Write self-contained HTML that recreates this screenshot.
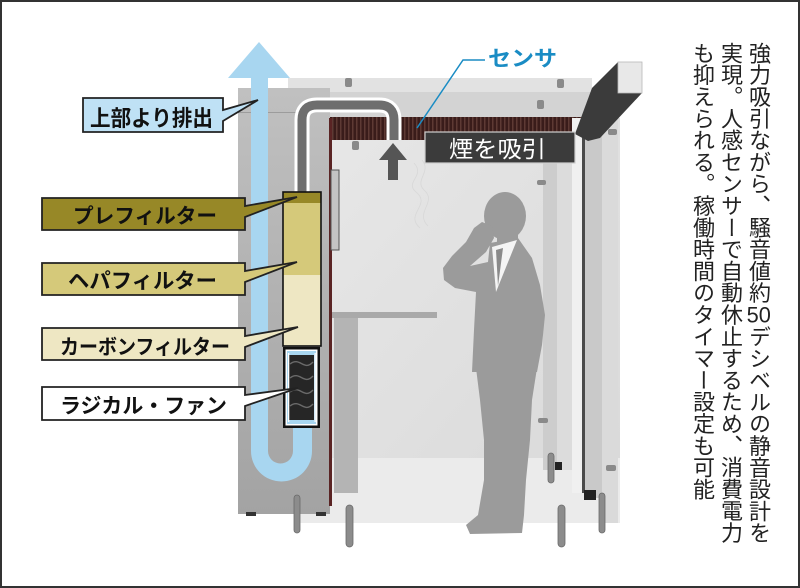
<!DOCTYPE html>
<html><head><meta charset="utf-8">
<style>
html,body{margin:0;padding:0;background:#fff;}
#wrap{position:relative;width:800px;height:588px;overflow:hidden;background:#fff;}
#frame{position:absolute;left:0;top:0;width:800px;height:588px;box-sizing:border-box;border:2px solid #333;}
svg{position:absolute;left:0;top:0;}
.vt{position:absolute;top:42px;right:28px;writing-mode:vertical-rl;font-family:"Liberation Sans","Noto Sans CJK JP",sans-serif;font-size:22px;letter-spacing:-0.2px;line-height:28px;color:#222;white-space:nowrap;}
.tcy{text-combine-upright:all;}
</style></head>
<body><div id="wrap">
<svg width="800" height="588" viewBox="0 0 800 588" font-family="'Liberation Sans','Noto Sans CJK JP',sans-serif">
<defs>
<linearGradient id="cab" x1="0" y1="0" x2="0" y2="1"><stop offset="0" stop-color="#c0c0c0"/><stop offset="1" stop-color="#a3a3a3"/></linearGradient>
<pattern id="hatch" width="4" height="4" patternUnits="userSpaceOnUse"><rect width="4" height="4" fill="#3a1c1a"/><rect width="1.5" height="4" fill="#5e3a34"/></pattern>
<linearGradient id="wall" x1="0" y1="0" x2="1" y2="1"><stop offset="0" stop-color="#e7e7e7"/><stop offset="1" stop-color="#dadada"/></linearGradient>
</defs>

<!-- interior wall & floor -->
<rect x="330" y="118" width="290" height="342" fill="url(#wall)"/>
<polygon points="300,458 620,458 620,523 300,523" fill="#ebebeb"/>

<!-- top beam -->
<rect x="288" y="78" width="304" height="40" fill="#d3d3d3"/>
<rect x="288" y="78" width="304" height="14" fill="#e2e2e2"/>
<!-- vent strip -->
<polygon points="330,117 590,117 577,140 330,140" fill="url(#hatch)"/>

<!-- right panels -->
<rect x="543" y="140" width="14" height="330" fill="#cdcdcd"/>
<rect x="557" y="140" width="15" height="330" fill="#dcdcdc"/>
<rect x="572" y="118" width="11" height="375" fill="#f0f0f0"/>
<rect x="582" y="118" width="3" height="375" fill="#4a4a4a"/>
<rect x="585" y="118" width="17" height="380" fill="#c9c9c9"/>
<rect x="602" y="118" width="16" height="405" fill="#dadada"/>
<rect x="555" y="462" width="7" height="8" fill="#222"/>
<rect x="584" y="490" width="12" height="10" fill="#222"/>

<!-- top-right bracket -->
<polygon points="575,134 592,88 618,62 642,62 642,93 600,138 588,141" fill="#3b3b3b"/>
<rect x="618" y="62" width="24" height="31" fill="#e8e8e8" stroke="#b8b8b8" stroke-width="0.8"/>

<!-- knobs -->
<g fill="#8a8a8a">
<rect x="345" y="78" width="7" height="9" rx="2"/>
<rect x="557" y="79" width="7" height="9" rx="2"/>
<rect x="537" y="100" width="7" height="9" rx="2"/>
<rect x="352" y="141" width="7" height="9" rx="2"/>
<rect x="537" y="180" width="9" height="5" rx="2"/>
<rect x="608" y="129" width="9" height="6" rx="2"/>
<rect x="538" y="418" width="10" height="5" rx="2"/>
<rect x="606" y="465" width="10" height="6" rx="2"/>
</g>

<!-- smoke -->
<g fill="none" stroke="#d8d8d8" stroke-width="0.8">
<path d="M420,228 C404,214 432,205 416,192 C404,182 426,176 414,163"/>
<path d="M428,226 C414,212 438,202 424,190 C414,180 432,172 422,160"/>
</g>

<!-- person -->
<g fill="#9b9b9b">
<ellipse cx="505" cy="216" rx="21" ry="24"/>
<rect x="497" y="230" width="21" height="20"/>
<path d="M490,243 L518,238 L532,258 L540,285 L545,315 L542,345 L537,372 L472,372 L474,330 L476,292 L455,288 L444,280 L443,268 L452,256 L466,242 L474,228 L482,222 L492,226 L494,238 L486,252 L470,266 L488,262 Z"/>
<path d="M476,368 L537,368 L532,400 L530,440 L526,480 L524,515 L522,533 L470,534 L466,525 L478,515 L484,480 L484,440 L480,400 Z"/>
</g>
<polygon points="492,247 517,240 496,292" fill="#f4f4f4"/>
<polygon points="496,250 503,248 498,286" fill="#8a8a8a"/>

<!-- left cabinet -->
<rect x="238" y="88" width="92" height="426" fill="url(#cab)"/>
<rect x="238" y="112" width="92" height="1" fill="#9c9c9c"/>
<rect x="329" y="118" width="3" height="388" fill="#5a2424"/>
<rect x="331" y="170" width="8" height="80" fill="#c4c4c4" stroke="#555" stroke-width="1"/>
<rect x="246" y="512" width="10" height="4" fill="#333"/>
<rect x="316" y="512" width="10" height="4" fill="#333"/>
<!-- table -->
<rect x="332" y="312" width="105" height="6" fill="#a9a9a9"/>
<rect x="334" y="318" width="24" height="175" fill="#b4b4b4"/>

<!-- legs -->
<g fill="#8c8c8c" stroke="#6a6a6a" stroke-width="0.8">
<rect x="294" y="495" width="6" height="38" rx="3"/>
<rect x="346" y="505" width="7" height="42" rx="3.5"/>
<rect x="558" y="505" width="7" height="42" rx="3.5"/>
<rect x="599" y="493" width="6" height="40" rx="3"/>
<rect x="548" y="453" width="6" height="30" rx="3"/>
</g>

<!-- blue airflow -->
<path d="M251,77 L251,451 A30.5,30.5 0 0 0 312,451 L312,428 L293,428 L293,451 A12.5,12.5 0 0 1 268,451 L268,77 Z" fill="#a8d6f0"/>
<polygon points="228,78 259,42 290,78" fill="#a8d6f0"/>

<!-- duct -->
<path d="M302,192 L302,120 Q302,105 317,105 L379,105 Q394,105 394,120 L394,140" fill="none" stroke="#fff" stroke-width="15"/>
<path d="M302,192 L302,120 Q302,105 317,105 L379,105 Q394,105 394,120 L394,140" fill="none" stroke="#6e6e6e" stroke-width="9"/>

<!-- filter column -->
<rect x="283" y="192" width="38" height="11" fill="#978827"/>
<rect x="283" y="203" width="38" height="72" fill="#d5c97a"/>
<rect x="283" y="275" width="38" height="71" fill="#eee7c3"/>
<rect x="283" y="192" width="38" height="154" fill="none" stroke="#111" stroke-width="1.6"/>

<!-- fan -->
<rect x="283" y="347" width="37" height="81" fill="#111"/>
<rect x="285.5" y="349.5" width="32" height="76" fill="#fff"/>
<rect x="287" y="351" width="29" height="73" fill="#a8d6f0"/>
<rect x="289" y="355" width="25" height="65" fill="#262626"/>
<rect x="288" y="353" width="1.3" height="69" fill="#fff"/>
<rect x="314.5" y="353" width="1.3" height="69" fill="#fff"/>
<g fill="none" stroke="#6a6a6a" stroke-width="1.4">
<path d="M290,364 C300,356 304,372 313,362"/>
<path d="M290,378 C300,370 304,386 313,376"/>
<path d="M290,392 C300,384 304,400 313,390"/>
<path d="M290,406 C300,398 304,414 313,404"/>
</g>

<!-- up arrow -->
<polygon points="393,143 407,160 398,160 398,180 388,180 388,160 379,160" fill="#555"/>

<!-- smoke label -->
<rect x="425" y="132" width="150" height="31" fill="#3b3b3b" stroke="#cfcfcf" stroke-width="1.2"/>
<text x="449" y="157" font-size="23" fill="#fff" textLength="97" lengthAdjust="spacingAndGlyphs">煙を吸引</text>

<!-- sensor -->
<polyline points="485,60 463,60 417,128" fill="none" stroke="#1a8cc4" stroke-width="1.5"/>
<text x="488" y="66" font-size="21.5" font-weight="700" fill="#1a8cc4" textLength="69" lengthAdjust="spacingAndGlyphs">センサ</text>

<!-- labels -->
<path d="M83,98 H223 V110 L258,100 L223,121 V132 H83 Z" fill="#bfe1f5" stroke="#222" stroke-width="1.8"/>
<text x="90" y="126" font-size="22" font-weight="700" fill="#111" textLength="123" lengthAdjust="spacingAndGlyphs">上部より排出</text>

<path d="M42,198 H245 V206 L297,197 L245,217 V230 H42 Z" fill="#978827" stroke="#222" stroke-width="1.8"/>
<text x="73" y="223" font-size="20.5" font-weight="700" fill="#111" textLength="144" lengthAdjust="spacingAndGlyphs">プレフィルター</text>

<path d="M42,263 H245 V271 L297,262 L245,282 V295 H42 Z" fill="#d5c97a" stroke="#222" stroke-width="1.8"/>
<text x="68" y="288" font-size="21" font-weight="700" fill="#111" textLength="149" lengthAdjust="spacingAndGlyphs">ヘパフィルター</text>

<path d="M42,328 H245 V336 L298,327 L245,347 V360 H42 Z" fill="#eee7c3" stroke="#222" stroke-width="1.8"/>
<text x="60" y="354" font-size="20.5" font-weight="700" fill="#111" textLength="170" lengthAdjust="spacingAndGlyphs">カーボンフィルター</text>

<path d="M42,387 H245 V395 L298,388 L245,406 V420 H42 Z" fill="#fff" stroke="#222" stroke-width="1.8"/>
<text x="60" y="413" font-size="21" font-weight="700" fill="#111" textLength="167" lengthAdjust="spacingAndGlyphs">ラジカル・ファン</text>
</svg>
<div class="vt">強力吸引ながら、騒音値約<span class="tcy">50</span>デシベルの静音設計を<br>実現。人感センサーで自動休止するため、消費電力<br>も抑えられる。稼働時間のタイマー設定も可能</div>
<div id="frame"></div>
</div></body></html>
